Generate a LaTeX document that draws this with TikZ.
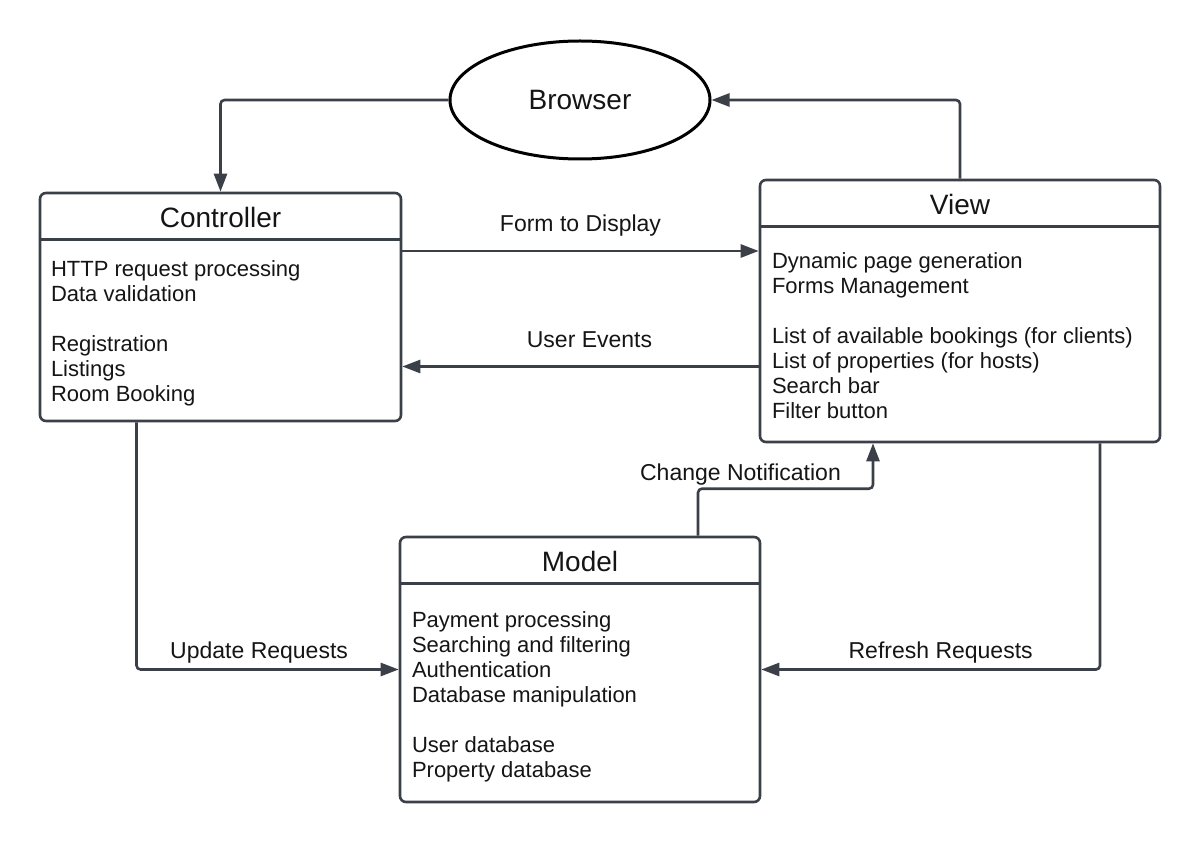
\documentclass[tikz,border=0pt]{standalone}
\usepackage{fontspec}
\setmainfont{Liberation Sans}
\usetikzlibrary{arrows.meta,positioning,calc,shapes.geometric}
\definecolor{linec}{HTML}{3B4048}
\definecolor{txtc}{HTML}{151515}

\begin{document}
\begin{tikzpicture}[x=1pt,y=-1pt,line width=2.6pt,text=txtc]
  \tikzstyle{box}=[draw=linec, rounded corners=6pt, inner sep=0pt]
  \tikzstyle{ttl}=[anchor=base, font=\fontsize{28}{32}\selectfont]
  \tikzstyle{body}=[anchor=north west, inner sep=0pt, align=left, font=\fontsize{22}{25}\selectfont]
  \tikzstyle{lbl}=[anchor=base, inner sep=0pt, font=\fontsize{23}{26}\selectfont]
  \tikzstyle{arr}=[draw=linec, rounded corners=4pt, -{Triangle[length=18pt,width=13pt]}]
  \tikzstyle{ln}=[draw=linec]

  \fill[white] (0,0) rectangle (1200,842);
  \useasboundingbox (0,0) rectangle (1200,842);

  % browser
  \node[ellipse, draw=black, line width=3pt, minimum width=260pt, minimum height=118pt,
        inner sep=0pt, font=\fontsize{28}{32}\selectfont] (brw) at (580,100) {Browser};

  % controller
  \node[box, minimum width=361pt, minimum height=228pt] (ctrl) at (220.5,307) {};
  \node[ttl] (ctrlT) at ([yshift=-35.5pt]ctrl.north) {Controller};
  \draw[ln] ([yshift=-48pt]ctrl.north west) -- ([yshift=-48pt]ctrl.north east);
  \node[body] (ctrlB) at ([xshift=11pt,yshift=-68pt]ctrl.north west)
    {HTTP request processing\\Data validation\\[25pt]Registration\\Listings\\Room Booking};

  % view
  \node[box, minimum width=400pt, minimum height=262pt] (view) at (960,311) {};
  \node[ttl] (viewT) at ([yshift=-35.5pt]view.north) {View};
  \draw[ln] ([yshift=-48pt]view.north west) -- ([yshift=-48pt]view.north east);
  \node[body] (viewB) at ([xshift=12pt,yshift=-73pt]view.north west)
    {Dynamic page generation\\Forms Management\\[25pt]List of available bookings (for clients)\\List of properties (for hosts)\\Search bar\\Filter button};

  % model
  \node[box, minimum width=360pt, minimum height=265pt] (model) at (580,669.5) {};
  \node[ttl] (modelT) at ([yshift=-35.5pt]model.north) {Model};
  \draw[ln] ([yshift=-48pt]model.north west) -- ([yshift=-48pt]model.north east);
  \node[body] (modelB) at ([xshift=12pt,yshift=-74.5pt]model.north west)
    {Payment processing\\Searching and filtering\\Authentication\\Database manipulation\\[25pt]User database\\Property database};

  % connectors
  \draw[arr] (brw.west) -| (ctrl.north);
  \draw[arr] (view.north) |- (brw.east);
  \draw[arr] ([yshift=56pt]ctrl.east) -- ([yshift=56pt]ctrl.east -| view.west)
    node[lbl, midway, yshift=19pt] {Form to Display};
  \draw[arr] ([yshift=-55.5pt]view.west) -- ([yshift=-55.5pt]view.west -| ctrl.east)
    node[lbl, midway, xshift=9pt, yshift=19pt] {User Events};
  \draw[arr] ([xshift=-84pt]ctrl.south) |- (model.west)
    node[lbl, pos=0.75, xshift=-8.5pt, yshift=11pt] {Update Requests};
  \draw[arr] ([xshift=140pt]view.south) |- (model.east)
    node[lbl, pos=0.75, xshift=10pt, yshift=11pt] {Refresh Requests};
  \draw[arr] ([xshift=118pt]model.north) -- ++(0,47pt)
    -| node[lbl, pos=0.25, xshift=-45pt, yshift=8pt] {Change Notification} ([xshift=-87pt]view.south);
\end{tikzpicture}
\end{document}
